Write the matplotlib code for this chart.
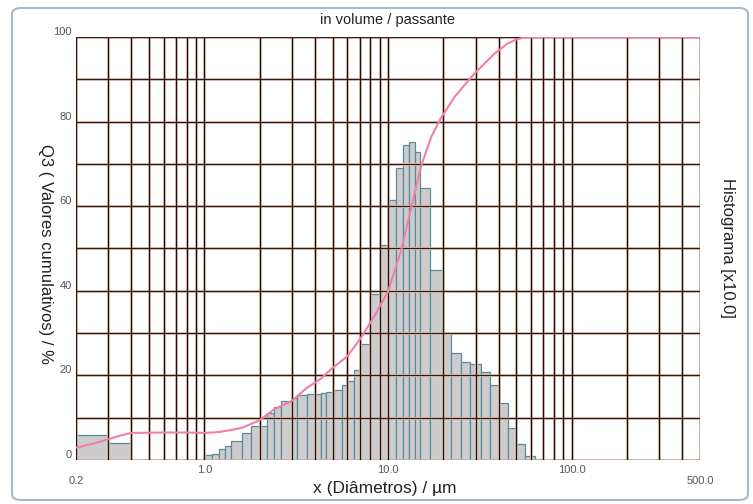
import numpy as np
import matplotlib.pyplot as plt
from matplotlib.patches import FancyBboxPatch
from matplotlib import transforms

plt.rcParams['font.family'] = ['Liberation Sans', 'DejaVu Sans']

bin_edges = [0.2, 0.3, 0.4, 1.0, 1.1, 1.2, 1.3, 1.4, 1.6, 1.8, 2.2, 2.4, 2.6,
             3.0, 3.2, 3.6, 4.3, 4.6, 5.1, 5.6, 6.0, 6.5, 7.0, 8.0, 9.0, 10.0,
             11.0, 12.0, 13.0, 14.0, 15.0, 17.0, 20.0, 22.0, 25.0, 28.0, 32.0,
             36.0, 40.0, 45.0, 50.0, 56.0, 63.0, 71.0]
bin_heights = [5.9, 4.1, 0.0, 1.2, 1.4, 2.6, 3.3, 4.5, 6.3, 8.0, 11.1, 12.5,
               13.9, 14.6, 15.4, 15.5, 15.8, 16.1, 16.6, 17.8, 18.7, 21.3, 27.4,
               39.2, 50.8, 61.5, 69.1, 74.5, 75.2, 72.7, 64.2, 44.9, 30.0, 25.2,
               23.2, 22.6, 20.9, 17.8, 13.4, 7.5, 3.7, 0.95, 0.35]

# cumulative curve (passante, %)
cum_x = [0.2, 0.25, 0.3, 0.35, 0.4, 0.6, 0.8, 1.0, 1.2, 1.4, 1.6, 2.0, 2.4,
         3.0, 3.6, 4.3, 5.0, 6.0, 7.1, 8.4, 10.0, 11.8, 13.3, 15.1, 17.2,
         19.5, 23.1, 29.6, 38.1, 44.9, 50.0, 55.6, 70.0, 500.0]
cum_y = [2.9, 3.9, 4.9, 5.8, 6.4, 6.5, 6.5, 6.4, 6.6, 7.1, 7.6, 9.4, 12.0,
         14.0, 17.0, 19.2, 21.8, 24.5, 28.8, 33.9, 39.8, 49.6, 59.1, 69.3, 76.4,
         81.0, 85.9, 91.4, 96.1, 98.5, 99.4, 99.9, 100.0, 100.0]

x_tick_values = [0.2, 1.0, 10.0, 100.0, 500.0]
x_tick_labels = ["0.2", "1.0", "10.0", "100.0", "500.0"]
y_tick_values = [0, 20, 40, 60, 80, 100]

fig = plt.figure(figsize=(7.53, 5.04), dpi=100)
fig.patch.set_facecolor('white')

frame = FancyBboxPatch((12 / 753, 4 / 504), 736 / 753, 492 / 504,
                       boxstyle="round,pad=0,rounding_size=0.012",
                       transform=fig.transFigure, facecolor='none',
                       edgecolor='#a9bac6', linewidth=1.5)
fig.patches.append(frame)

ax = fig.add_axes([76 / 753, 1 - 460 / 504, 624 / 753, 423 / 504])
ax.set_xscale('log')
ax.set_xlim(0.2, 500)
ax.set_ylim(0, 100)
for s in ax.spines.values():
    s.set_visible(False)

# histogram bars
edges = np.array(bin_edges)
heights = np.array(bin_heights)
keep = heights > 0
ax.bar(edges[:-1][keep], heights[keep], width=np.diff(edges)[keep], align='edge',
       color='#cccccc', edgecolor='#5d8a98', linewidth=0.9, zorder=2)

# grid: dark lines with a faint orange fringe
grid_x = [m * 10.0 ** e for e in (-1, 0, 1, 2) for m in range(1, 10)]
grid_x = [g for g in grid_x if 0.2 - 1e-9 <= g <= 500 + 1e-9]
for gx in grid_x:
    ax.axvline(gx, color='#f8d6c6', lw=2.0, zorder=3)
    ax.axvline(gx, color='#1a100c', lw=1.0, zorder=4)
for gy in range(0, 101, 10):
    ax.axhline(gy, color='#f8d6c6', lw=2.0, zorder=3)
    ax.axhline(gy, color='#2e1c14', lw=1.0, zorder=4)

# cumulative curve
ax.plot(cum_x, cum_y, color='#f27fa5', lw=1.5, zorder=5)

# ticks
ax.set_xticks([])
ax.minorticks_off()
ax.set_yticks(y_tick_values)
ax.set_yticklabels([str(v) for v in y_tick_values])
ax.tick_params(axis='y', length=0, pad=3, labelsize=8, labelcolor='#555555')
for lbl in ax.get_yticklabels():
    lbl.set_va('bottom')

xt = ax.get_xaxis_transform()
for v, t in zip(x_tick_values, x_tick_labels):
    low = v in (0.2, 500.0)
    off = transforms.offset_copy(xt, fig=fig, x=0, y=-(15 if low else 7), units='points')
    ax.text(v, 0, t, transform=off, ha='center', va='center', fontsize=8, color='#555555')

fig.text(385 / 753, 1 - 489 / 504, "x (Diâmetros) / µm", ha='center', va='center',
         fontsize=12.5, color='#222222')
fig.text(45 / 753, 1 - 254 / 504, "Q3 ( Valores cumulativos) / %", ha='center', va='center',
         rotation=-90, fontsize=12, color='#222222')
fig.text(728 / 753, 1 - 248 / 504, "Histograma [x10.0]", ha='center', va='center',
         rotation=-90, fontsize=12, color='#222222')
fig.text(388 / 753, 1 - 20 / 504, "in volume / passante", ha='center', va='center',
         fontsize=10.5, color='#222222')

fig.savefig('out.png', dpi=100)
